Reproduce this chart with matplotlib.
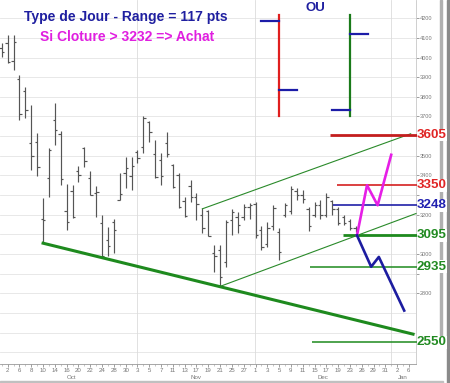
import matplotlib
matplotlib.use('Agg')
import matplotlib.pyplot as plt
from matplotlib.patches import Rectangle
from matplotlib.transforms import blended_transform_factory

plt.rcParams['font.family'] = ['Liberation Sans', 'DejaVu Sans']

# daily bars, index 0 = 1 Oct
highs = [4075, 4115, 4115, 3910, 3850, 3760, 3615, 3285, 3540, 3770,
         3625, 3355, 3350, 3450, 3545, 3420, 3345, 3200, 3135, 3180,
         3410, 3495, 3495, 3530, 3700, 3675, 3580, 3515, 3620, 3460,
         3410, 3290, 3375, 3310, 3235, 3225, 3045, 3045, 3175, 3230,
         3215, 3255, 3260, 3265, 3140, 3165, 3250, 3130, 3260, 3345,
         3335, 3325, 3240, 3265, 3275, 3310, 3275, 3240, 3200, 3180, 3145]
lows = [4005, 3970, 3935, 3680, 3690, 3430, 3395, 3055, 3290, 3555,
        3350, 3120, 3185, 3365, 3445, 3300, 3190, 2980, 2990, 3005,
        3275, 3335, 3325, 3465, 3515, 3570, 3385, 3350, 3495, 3335,
        3235, 3190, 3265, 3175, 3105, 3090, 2910, 2835, 2935, 3095,
        3105, 3175, 3180, 3080, 3020, 3035, 3120, 2970, 3190, 3205,
        3275, 3260, 3115, 3190, 3180, 3190, 3200, 3150, 3150, 3120, 3110]
opens = [4050, 4075, 3980, 3890, 3830, 3565, 3570, 3180, 3385, 3680,
         3610, 3220, 3320, 3420, 3540, 3385, 3310, 3160, 3070, 3165,
         3275, 3410, 3395, 3520, 3545, 3670, 3510, 3480, 3565, 3455,
         3400, 3270, 3345, 3290, 3200, 3220, 3005, 3020, 2960, 3175,
         3190, 3190, 3240, 3255, 3120, 3050, 3140, 3110, 3200, 3220,
         3320, 3300, 3230, 3200, 3250, 3200, 3270, 3230, 3190, 3170, 3130]
closes = [4030, 3975, 4080, 3715, 3735, 3500, 3445, 3175, 3530, 3630,
          3380, 3165, 3190, 3400, 3475, 3300, 3315, 2990, 3040, 3120,
          3305, 3440, 3450, 3490, 3690, 3620, 3390, 3395, 3510, 3340,
          3240, 3195, 3290, 3255, 3130, 3090, 2990, 2885, 3165, 3215,
          3150, 3240, 3250, 3095, 3035, 3130, 3235, 3010, 3250, 3330,
          3300, 3280, 3140, 3250, 3200, 3290, 3230, 3160, 3160, 3130, 3115]

day_labels = ['2', '6', '8', '10', '14', '16', '20', '22', '24', '28', '30',
              '3', '5', '7', '11', '13', '17', '19', '21', '25', '27',
              '1', '3', '5', '9', '11', '15', '17', '19', '23', '26', '29', '31',
              '2', '6']
months = ['Oct', 'Nov', 'Dec', 'Jan']
month_pos = [11.8, 33.0, 54.5, 68.0]
month_starts = [23, 43, 66]

# price scale labels (those hidden behind the level tags are left blank)
price_ticks = list(range(2800, 4201, 100))
hidden_ticks = [2900, 3100, 3300, 3600]

# trend lines (index, price)
support_x = [7, 69.7]
support_y = [3055, 2592]
chan_low_x = [37, 70.2]
chan_low_y = [2835, 3206]
chan_high_x = [34, 69.3]
chan_high_y = [3230, 3612]

# projected paths
up_x = [60.2, 61.9, 63.7, 66.0]
up_y = [3095, 3350, 3248, 3505]
down_x = [60.2, 62.6, 63.9, 68.2]
down_y = [3095, 2935, 2985, 2712]

# levels: value, start index, colour, width
levels = [3605, 3350, 3248, 3095, 2935, 2550]
level_start = [55.7, 56.8, 56.2, 57.9, 52.3, 52.6]
level_color = ['#c41e1e', '#d42020', '#2020a8', '#1e8a1e', '#1e8a1e', '#1e8a1e']
label_color = ['#e02424', '#e02424', '#2020b0', '#218a21', '#218a21', '#218a21']
level_lw = [2.0, 1.2, 1.2, 2.0, 1.1, 1.1]

# sketch of the two day types
red_bar = (47.0, 4217, 3703, 4186, 3835)
green_bar = (59.0, 4217, 3703, 3735, 4120)

XMIN, XMAX = -0.3, 70.2
YMIN, YMAX = 2440, 4293

fig = plt.figure(figsize=(4.5, 3.83), dpi=100)
fig.patch.set_facecolor('white')
ax = fig.add_axes([0, 19 / 383, 416 / 450, 364 / 383])
ax.set_zorder(2)
ax.set_xlim(XMIN, XMAX)
ax.set_ylim(YMIN, YMAX)

# grid
for v in range(2500, 4201, 100):
    ax.axhline(v, color='#e4e4e4', lw=0.6, zorder=0)
for m in month_starts:
    ax.axvline(m - 0.1, color='#dcdcdc', lw=0.6, zorder=0)

# OHLC bars
idx = list(range(len(highs)))
ax.vlines(idx, lows, highs, color='#555555', lw=0.85, zorder=2)
ax.hlines(opens, [i - 0.4 for i in idx], idx, color='#555555', lw=0.85, zorder=2)
ax.hlines(closes, idx, [i + 0.4 for i in idx], color='#555555', lw=0.85, zorder=2)

# trend lines
ax.plot(support_x, support_y, color='#1e8a1e', lw=2.2, zorder=3)
ax.plot(chan_low_x, chan_low_y, color='#2a8a2a', lw=0.8, zorder=3, clip_on=False)
ax.plot(chan_high_x, chan_high_y, color='#2a8a2a', lw=0.8, zorder=3)

# levels with labels
for v, s, c, lc, w in zip(levels, level_start, level_color, label_color, level_lw):
    ax.plot([s, XMAX + 0.2], [v, v], color=c, lw=w, zorder=4, clip_on=False, solid_capstyle='butt')
    ax.text(XMAX + 0.15, v, str(v), color=lc, fontsize=9.6, fontweight='bold',
            va='center', ha='left', clip_on=False, zorder=6,
            bbox=dict(facecolor='white', edgecolor='none', pad=0.2))

# projected paths
ax.plot(up_x, up_y, color='#e61ee6', lw=1.9, zorder=5)
ax.plot(down_x, down_y, color='#1c1ca0', lw=1.9, zorder=5)

# day type sketch
for (x, top, bot, o, c), col in [(red_bar, '#e01e1e'), (green_bar, '#1a7a1a')]:
    ax.plot([x, x], [bot, top], color=col, lw=1.6, zorder=5)
    ax.plot([x - 3, x], [o, o], color='#1c1ca8', lw=1.6, zorder=5)
    ax.plot([x, x + 3], [c, c], color='#1c1ca8', lw=1.6, zorder=5)

ax.text(0.303, 0.952, 'Type de Jour - Range = 117 pts', transform=ax.transAxes,
        ha='center', va='center', color='#1f1fa0', fontsize=10, fontweight='bold')
ax.text(0.305, 0.898, 'Si Cloture > 3232 => Achat', transform=ax.transAxes,
        ha='center', va='center', color='#e01ee0', fontsize=10, fontweight='bold')
ax.text(0.757, 0.978, 'OU', transform=ax.transAxes,
        ha='center', va='center', color='#1f1fa0', fontsize=9.5, fontweight='bold')

# axes styling
ax.yaxis.tick_right()
ax.set_yticks(price_ticks)
ax.set_yticklabels(['' if v in hidden_ticks else str(v) for v in price_ticks])
ax.tick_params(axis='y', labelsize=4, colors='#777777', length=2, width=0.5, pad=1)
ax.set_xticks(range(1, 70, 2))
ax.set_xticklabels(day_labels)
ax.set_xticks(range(0, 70), minor=True)
ax.tick_params(axis='x', which='major', labelsize=4.4, colors='#777777', length=2, width=0.5, pad=1)
ax.tick_params(axis='x', which='minor', colors='#999999', length=1.2, width=0.4)
for side in ['top', 'left']:
    ax.spines[side].set_visible(False)
ax.spines['right'].set_color('#c8c8c8')
ax.spines['right'].set_linewidth(0.6)
ax.spines['bottom'].set_color('#999999')
ax.spines['bottom'].set_linewidth(0.6)

tr = blended_transform_factory(ax.transData, ax.transAxes)
for m, p in zip(months, month_pos):
    ax.text(p, -0.037, m, transform=tr, ha='center', va='center', fontsize=4.4,
            color='#777777', clip_on=False)

# right-hand panel strips
fig.patches.append(Rectangle((440 / 450, 43 / 383), 2 / 450, 340 / 383,
                             transform=fig.transFigure, color='#b0b0b0', zorder=0))
fig.patches.append(Rectangle((447 / 450, 0), 3 / 450, 1,
                             transform=fig.transFigure, color='#8a8a8a', zorder=0))
fig.patches.append(Rectangle((0, 0), 443 / 450, 2 / 383,
                             transform=fig.transFigure, color='#c0c0c0', zorder=0))

fig.savefig('out.png', dpi=100)
